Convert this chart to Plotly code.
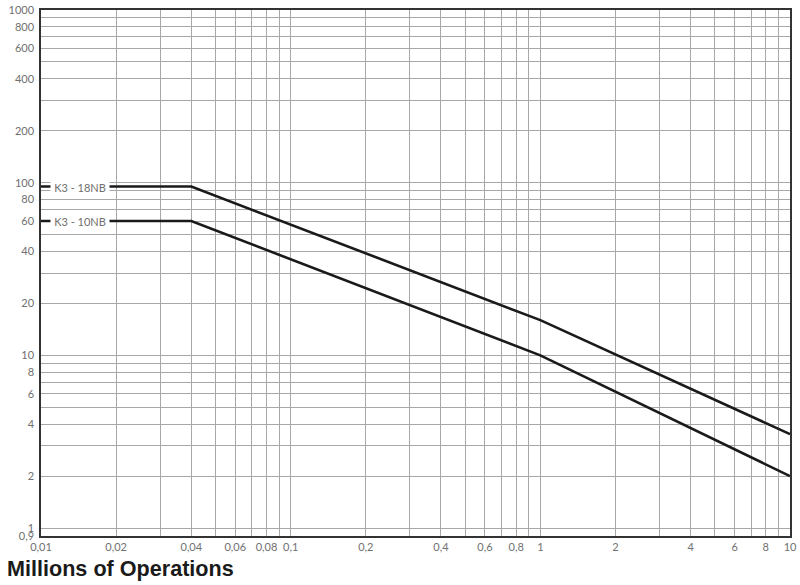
import math
import plotly.graph_objects as go

# ---- data ----
ops_18nb = [0.01, 0.04, 1, 10]          # millions of operations
val_18nb = [95, 95, 16, 3.5]
ops_10nb = [0.01, 0.04, 1, 10]
val_10nb = [60, 60, 10, 2]
series_names = ["K3 - 18NB", "K3 - 10NB"]

x_grid = [m * 10**e for e in (-2, -1, 0) for m in range(1, 10)] + [10]
x_labelled = {0.01: "0,01", 0.02: "0,02", 0.04: "0,04", 0.06: "0,06", 0.08: "0,08",
              0.1: "0,1", 0.2: "0,2", 0.4: "0,4", 0.6: "0,6", 0.8: "0,8",
              1: "1", 2: "2", 4: "4", 6: "6", 8: "8", 10: "10"}
y_grid = [0.9] + [m * 10**e for e in (0, 1, 2) for m in range(1, 10)] + [1000]
y_labelled = {0.9: "0,9", 1: "1", 2: "2", 4: "4", 6: "6", 8: "8", 10: "10", 20: "20",
              40: "40", 60: "60", 80: "80", 100: "100", 200: "200", 400: "400",
              600: "600", 800: "800", 1000: "1000"}

def lab(v, d):
    for k, t in d.items():
        if abs(v - k) < 1e-9 * max(1, k):
            return t
    return ""

x_text = [lab(v, x_labelled) for v in x_grid]
y_text = [lab(v, y_labelled) for v in y_grid]

fig = go.Figure()
for xs, ys, name in [(ops_18nb, val_18nb, series_names[0]), (ops_10nb, val_10nb, series_names[1])]:
    fig.add_trace(go.Scatter(x=xs, y=ys, mode="lines", name=name,
                             line=dict(color="#1a1a1a", width=2.6), showlegend=False,
                             hoverinfo="skip"))
    fig.add_annotation(x=math.log10(xs[0]), y=math.log10(ys[0]), xref="x", yref="y",
                       xanchor="left", xshift=9, borderpad=0,
                       text=name, showarrow=False, bgcolor="white", width=58, height=12,
                       font=dict(family="Lato, sans-serif", size=11, color="#707070"))

tickfont = dict(family="Lato, sans-serif", size=11, color="#707070")
fig.update_xaxes(type="log", range=[-2, 1], tickvals=x_grid, ticktext=x_text,
                 showgrid=True, gridcolor="#a8a8a8", gridwidth=1, automargin=False,
                 showline=True, linecolor="#333333", linewidth=1.5, mirror=True,
                 ticks="", tickfont=tickfont, zeroline=False)
fig.update_yaxes(type="log", range=[-0.04576, 3], tickvals=y_grid, ticktext=y_text,
                 showgrid=True, gridcolor="#a8a8a8", gridwidth=1, automargin=False,
                 showline=True, linecolor="#333333", linewidth=1.5, mirror=True,
                 ticks="", tickfont=tickfont, ticklabelstandoff=3, zeroline=False)

fig.update_layout(
    width=800, height=585,
    margin=dict(l=41, r=10, t=10, b=49, autoexpand=False),
    paper_bgcolor="white", plot_bgcolor="white",
    annotations=list(fig.layout.annotations) + [
        dict(text="<b>Millions of Operations</b>", xref="paper", yref="paper",
             x=-36/749, xanchor="left", y=-(568 - 536) / 526, yanchor="middle",
             showarrow=False,
             font=dict(family="Liberation Sans, Arial, sans-serif", size=21.6, color="#1a1a1a"))
    ],
)

fig.write_html("out.html", config={"displayModeBar": False},
               post_script="document.body.style.margin='0';document.body.style.overflow='hidden';")
